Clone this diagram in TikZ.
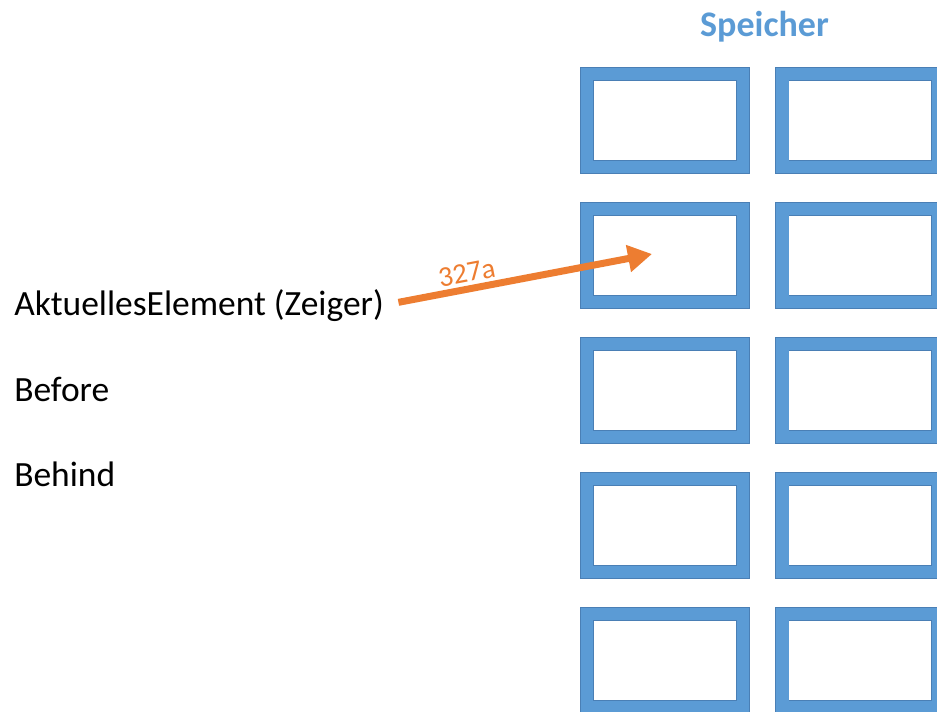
\documentclass[tikz,border=0pt]{standalone}
\usepackage{fontspec}
\setmainfont{Carlito}
\usetikzlibrary{arrows.meta,positioning}
\definecolor{kastenblau}{HTML}{5B9BD5}
\definecolor{randblau}{HTML}{4A7FB5}
\definecolor{zeigerorange}{HTML}{ED7D31}

\begin{document}
\begin{tikzpicture}[x=0.75pt,y=-0.75pt,
    zelle/.style={rectangle,draw=randblau,line width=0.6pt,double=kastenblau,double distance=9.3pt,fill=white,minimum width=117pt,minimum height=69.75pt,inner sep=0pt},
    beschriftung/.style={anchor=base west,inner sep=0pt,font=\fontsize{26.6}{30}\selectfont},
    zeiger/.style={draw=zeigerorange,line width=5.25pt,-{Triangle[length=18pt,width=19.5pt]},shorten <=11pt}]
        \useasboundingbox (0,0) rectangle (937,711);

        % Speicherzellen
        \foreach \zeile in {1,...,5}{
            \foreach \spalte/\xpos in {1/665,2/860.3}{
                \node[zelle] (z-\zeile-\spalte) at (\xpos,{120.5+135*(\zeile-1)}) {};
            }
        }
        \node[anchor=base,inner sep=0pt,text=kastenblau,font=\fontsize{27}{30}\selectfont\bfseries] (speicher) at (764.5,36) {Speicher};

        \node[beschriftung] (aktuell) at (14,315) {AktuellesElement (Zeiger)};
        \node[beschriftung] (before) at (14,401) {Before};
        \node[beschriftung] (behind) at (14,486) {Behind};

        \coordinate (zeigerziel) at (652,254);
        \draw[zeiger] (aktuell.east) -- node[pos=0.32,above,sloped,inner sep=2.5pt,text=zeigerorange,font=\fontsize{21.5}{24}\selectfont] {327a} (zeigerziel);
    \end{tikzpicture}
\end{document}
